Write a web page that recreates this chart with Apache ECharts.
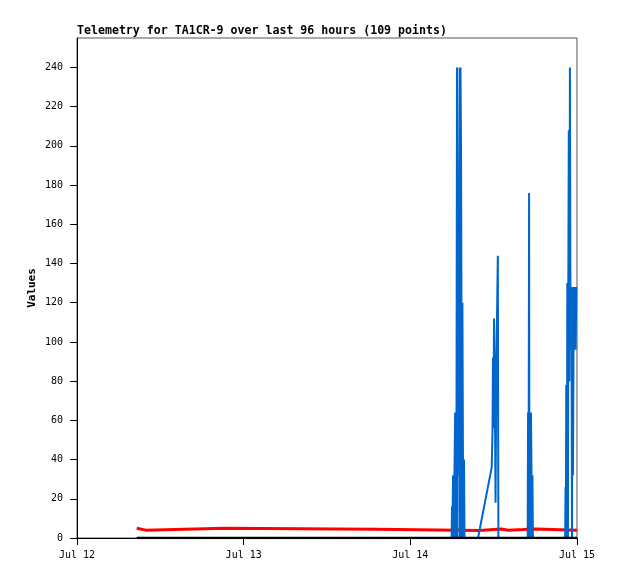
<!DOCTYPE html>
<html>
<head>
<meta charset="utf-8">
<script src="https://cdn.jsdelivr.net/npm/echarts@6/dist/echarts.min.js"></script>
<style>
  html, body { margin: 0; padding: 0; background: #fff; }
  #chart { width: 618px; height: 579px; }
</style>
</head>
<body>
<div id="chart"></div>
<script>
// x values are hours since Jul 12 00:00
const dayLabels = ["Jul 12", "Jul 13", "Jul 14", "Jul 15"];
const yTicks = [0, 20, 40, 60, 80, 100, 120, 140, 160, 180, 200, 220, 240];

// red telemetry channel
const redSeries = [
  [8.6, 5], [8.75, 4], [9.9, 4], [10.1, 5], [21.2, 5], [21.3, 4.4],
  [43.1, 4.4], [43.2, 3.8], [57.9, 3.8], [58.0, 4.6], [61.1, 4.6],
  [61.2, 4.0], [62.1, 4.0], [62.2, 4.3], [64.2, 4.3], [64.3, 4.6],
  [66.1, 4.6], [66.2, 4.0], [72, 4.0]
];

// blue telemetry channel
const blueSeries = [
  [8.6, 0], [53.95, 0], [54.0, 16], [54.05, 0], [54.15, 32], [54.25, 0],
  [54.35, 32], [54.45, 64], [54.55, 0], [54.65, 64], [54.72, 240],
  [54.8, 0], [54.87, 176], [54.95, 32], [55.02, 176], [55.1, 240],
  [55.15, 0], [55.22, 240], [55.3, 200], [55.36, 120], [55.42, 0],
  [55.5, 120], [55.58, 40], [55.65, 0], [55.73, 40], [55.8, 0],
  [57.75, 0], [59.72, 36], [59.84, 56], [59.9, 92], [59.98, 56],
  [60.05, 112], [60.12, 92], [60.2, 56], [60.27, 18], [60.4, 92],
  [60.6, 144], [60.68, 0],
  [64.9, 0], [64.95, 64], [65.0, 0], [65.05, 64], [65.1, 176], [65.15, 0],
  [65.22, 64], [65.3, 0], [65.37, 64], [65.45, 32], [65.52, 0],
  [65.58, 32], [65.65, 0],
  [70.3, 0], [70.35, 26], [70.4, 0], [70.45, 78], [70.55, 0], [70.6, 130],
  [70.7, 0], [70.75, 130], [70.82, 208], [70.9, 80], [70.98, 240],
  [71.05, 128], [71.12, 96], [71.2, 128], [71.28, 0], [71.35, 128],
  [71.42, 32], [71.5, 96], [71.58, 128], [71.65, 96], [71.72, 128],
  [71.8, 96], [71.9, 128], [72, 128]
];

// black telemetry channel (flat zero)
const blackSeries = [[8.6, 0], [72, 0]];

const mono = "DejaVu Sans Mono";
const chart = echarts.init(document.getElementById("chart"));
chart.setOption({
  animation: false,
  backgroundColor: "#fff",
  title: {
    text: "Telemetry for TA1CR-9 over last 96 hours (109 points)",
    left: 77,
    top: 25,
    padding: 0,
    textStyle: { fontFamily: mono, fontSize: 11.6, fontWeight: "bold", color: "#000" },
  },
  grid: {
    left: 77, right: 41, top: 38, bottom: 41,
    show: true, borderColor: "#555", borderWidth: 1,
  },
  xAxis: {
    type: "value",
    min: 0, max: 72, interval: 24,
    axisLine: { lineStyle: { color: "#000", width: 1 } },
    axisTick: { length: 7, lineStyle: { color: "#000" } },
    splitLine: { show: false },
    axisLabel: {
      margin: 12,
      fontFamily: mono, fontSize: 10, color: "#000",
      formatter: (v) => dayLabels[Math.round(v / 24)],
    },
  },
  yAxis: {
    type: "value",
    min: 0, max: 255,
    name: "Values",
    nameLocation: "middle",
    nameGap: 39,
    nameMoveOverlap: false,
    nameTextStyle: { fontFamily: mono, fontSize: 11, fontWeight: "bold", color: "#000" },
    axisLine: { show: true, lineStyle: { color: "#000", width: 1 } },
    axisTick: { show: true, length: 7, customValues: yTicks, lineStyle: { color: "#000" } },
    splitLine: { show: false },
    axisLabel: {
      margin: 14,
      customValues: yTicks,
      fontFamily: mono, fontSize: 10, color: "#000",
    },
  },
  series: [
    {
      name: "red", type: "line", data: redSeries, showSymbol: false, z: 2,
      lineStyle: { color: "#ff0000", width: 3 },
    },
    {
      name: "blue", type: "line", data: blueSeries, showSymbol: false, z: 3,
      lineStyle: { color: "#0066cc", width: 2 },
    },
    {
      name: "black", type: "line", data: blackSeries, showSymbol: false, z: 4,
      lineStyle: { color: "#000", width: 2.5 },
    },
  ],
});
</script>
</body>
</html>
